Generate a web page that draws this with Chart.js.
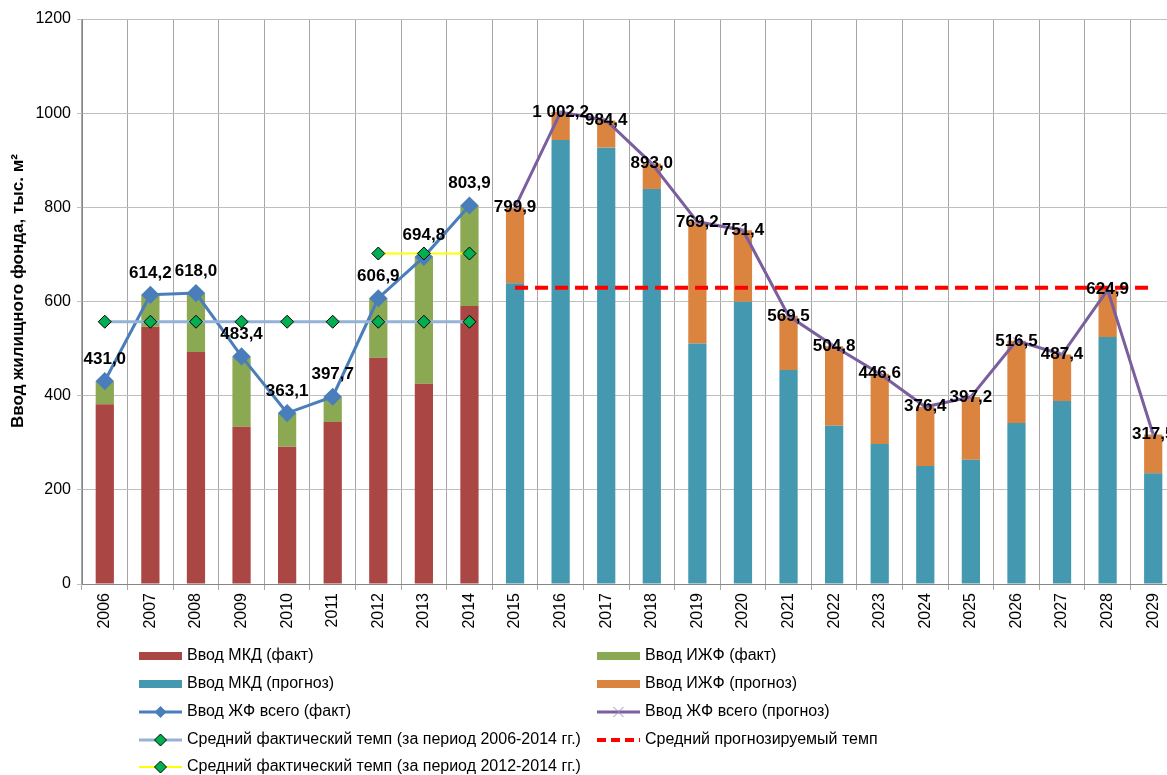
<!DOCTYPE html>
<html lang="ru">
<head>
    <meta charset="UTF-8">
    <title>Ввод жилищного фонда</title>
    <script src="https://cdn.jsdelivr.net/npm/chart.js"></script>
    <style>
        html, body { margin: 0; padding: 0; background: #fff; overflow: hidden; }
    </style>
</head>
<body>
    <canvas id="housingChart" width="1186" height="775"></canvas>

    <script>
        // years on the x axis
        const years = ['2006', '2007', '2008', '2009', '2010', '2011', '2012', '2013', '2014', '2015',
            '2016', '2017', '2018', '2019', '2020', '2021', '2022', '2023', '2024', '2025',
            '2026', '2027', '2028', '2029'];

        // fact 2006-2014, thousand m2
        const mkdFact = [382.0, 546.5, 493.0, 334.0, 291.7, 344.0, 480.7, 425.5, 590.5];
        const izhfFact = [49.0, 67.7, 125.0, 149.4, 71.4, 53.7, 126.2, 269.3, 213.4];
        const totalFact = [431.0, 614.2, 618.0, 483.4, 363.1, 397.7, 606.9, 694.8, 803.9];

        // forecast 2015-2029
        const mkdForecast = [638.7, 943.0, 926.8, 839.0, 511.0, 599.7, 454.5, 336.0, 297.4, 250.6, 264.0, 342.0, 388.7, 524.6, 235.0];
        const izhfForecast = [161.2, 59.2, 57.6, 54.0, 258.2, 151.7, 115.0, 168.8, 149.2, 125.8, 133.2, 174.5, 98.7, 100.3, 82.5];
        const totalForecast = [799.9, 1002.2, 984.4, 893.0, 769.2, 751.4, 569.5, 504.8, 446.6, 376.4, 397.2, 516.5, 487.4, 624.9, 317.5];

        // average rates
        const avgFact2006 = 557.0;
        const avgFact2012 = 701.9;
        const avgForecast = 629.4;

        const yTitle = 'Ввод жилищного фонда, тыс. м²';

        const nFact = mkdFact.length;
        const nForecast = mkdForecast.length;
        const empty = n => Array(n).fill(null);
        const factSeries = arr => arr.concat(empty(nForecast));
        const forecastSeries = arr => empty(nFact).concat(arr);

        const FONT = '"Liberation Sans", Arial, sans-serif';

        function fmt(v) {
            const parts = v.toFixed(1).split('.');
            const intPart = parts[0].replace(/\B(?=(\d{3})+(?!\d))/g, ' ');
            return intPart + ',' + parts[1];
        }

        const greenDiamond = {
            pointStyle: 'rectRot',
            pointRadius: 6.5,
            pointHoverRadius: 6.5,
            pointBackgroundColor: '#00B050',
            pointBorderColor: '#000000',
            pointBorderWidth: 1
        };

        // value labels on the two total lines
        const valueLabels = {
            id: 'valueLabels',
            afterDatasetsDraw(chart) {
                const ctx = chart.ctx;
                ctx.save();
                ctx.font = 'bold 17px ' + FONT;
                ctx.fillStyle = '#000';
                ctx.textAlign = 'center';
                ctx.textBaseline = 'middle';
                [[4, -22], [5, 0]].forEach(([idx, dy]) => {
                    const meta = chart.getDatasetMeta(idx);
                    chart.data.datasets[idx].data.forEach((v, i) => {
                        if (v == null) return;
                        const p = meta.data[i];
                        ctx.fillText(fmt(v), p.x, p.y + dy);
                    });
                });
                ctx.restore();
            }
        };

        // rotated y axis title, placed a bit above the axis centre as in the original
        const axisTitle = {
            id: 'axisTitle',
            afterDraw(chart) {
                const ctx = chart.ctx;
                ctx.save();
                ctx.translate(18, 291);
                ctx.rotate(-Math.PI / 2);
                ctx.font = 'bold 17px ' + FONT;
                ctx.fillStyle = '#000';
                ctx.textAlign = 'center';
                ctx.textBaseline = 'middle';
                ctx.fillText(yTitle, 0, 0);
                ctx.restore();
            }
        };

        // two-column legend under the chart
        const bottomLegend = {
            id: 'bottomLegend',
            afterDraw(chart) {
                const ctx = chart.ctx;
                const items = [
                    [0, 139, 656], [1, 597, 656],
                    [2, 139, 684], [3, 597, 684],
                    [4, 139, 712], [5, 597, 712],
                    [6, 139, 740], [7, 597, 740],
                    [8, 139, 767]
                ];
                ctx.save();
                ctx.font = '16px ' + FONT;
                ctx.textBaseline = 'middle';
                items.forEach(([idx, x, y]) => {
                    const ds = chart.data.datasets[idx];
                    const w = 43;
                    const cx = x + w / 2;
                    if (ds.type === 'bar') {
                        ctx.fillStyle = ds.backgroundColor;
                        ctx.fillRect(x, y - 4, w, 8);
                    } else {
                        ctx.strokeStyle = ds.borderColor;
                        ctx.lineWidth = ds.borderWidth;
                        ctx.setLineDash(ds.borderDash ? [9, 5] : []);
                        ctx.beginPath();
                        ctx.moveTo(x, y);
                        ctx.lineTo(x + w, y);
                        ctx.stroke();
                        ctx.setLineDash([]);
                        if (ds.pointRadius > 0) {
                            ctx.fillStyle = ds.pointBackgroundColor;
                            ctx.strokeStyle = ds.pointBorderColor;
                            ctx.lineWidth = ds.pointBorderWidth || 1;
                            ctx.beginPath();
                            const r = 6;
                            if (ds.pointStyle === 'crossRot') {
                                ctx.moveTo(cx - 5, y - 5); ctx.lineTo(cx + 5, y + 5);
                                ctx.moveTo(cx - 5, y + 5); ctx.lineTo(cx + 5, y - 5);
                                ctx.stroke();
                            } else {
                                ctx.moveTo(cx, y - r); ctx.lineTo(cx + r, y);
                                ctx.lineTo(cx, y + r); ctx.lineTo(cx - r, y);
                                ctx.closePath();
                                ctx.fill();
                                if (ds.pointBorderColor !== ds.pointBackgroundColor) ctx.stroke();
                            }
                        }
                    }
                    ctx.fillStyle = '#000';
                    ctx.fillText(ds.label, x + w + 5, y);
                });
                ctx.restore();
            }
        };

        const ctx = document.getElementById('housingChart').getContext('2d');

        new Chart(ctx, {
            data: {
                labels: years,
                datasets: [
                    {
                        type: 'bar', label: 'Ввод МКД (факт)', data: factSeries(mkdFact),
                        backgroundColor: '#AA4643', stack: 'bars', order: 10
                    },
                    {
                        type: 'bar', label: 'Ввод ИЖФ (факт)', data: factSeries(izhfFact),
                        backgroundColor: '#8BA853', stack: 'bars', order: 10
                    },
                    {
                        type: 'bar', label: 'Ввод МКД (прогноз)', data: forecastSeries(mkdForecast),
                        backgroundColor: '#4499B0', stack: 'bars', order: 10
                    },
                    {
                        type: 'bar', label: 'Ввод ИЖФ (прогноз)', data: forecastSeries(izhfForecast),
                        backgroundColor: '#DB843F', stack: 'bars', order: 10
                    },
                    {
                        type: 'line', label: 'Ввод ЖФ всего (факт)', data: factSeries(totalFact),
                        stack: 'l1',
                        borderColor: '#4A7EBB', borderWidth: 3, pointStyle: 'rectRot',
                        pointRadius: 7, pointHoverRadius: 7,
                        pointBackgroundColor: '#4A7EBB', pointBorderColor: '#4A7EBB', order: 3
                    },
                    {
                        type: 'line', label: 'Ввод ЖФ всего (прогноз)', data: forecastSeries(totalForecast),
                        stack: 'l2',
                        borderColor: '#7B5E9E', borderWidth: 3, pointStyle: 'crossRot',
                        pointRadius: 5, pointHoverRadius: 5,
                        pointBackgroundColor: '#9C88C0', pointBorderColor: '#9C88C0', pointBorderWidth: 1, order: 3
                    },
                    {
                        type: 'line', label: 'Средний фактический темп (за период 2006-2014 гг.)',
                        data: factSeries(Array(nFact).fill(avgFact2006)),
                        stack: 'l3',
                        borderColor: '#95B3D7', borderWidth: 3, order: 1, ...greenDiamond
                    },
                    {
                        type: 'line', label: 'Средний прогнозируемый темп',
                        data: forecastSeries(Array(nForecast).fill(avgForecast)),
                        stack: 'l4',
                        borderColor: '#FF0000', borderWidth: 4, borderDash: [13, 7],
                        pointRadius: 0, order: 2
                    },
                    {
                        type: 'line', label: 'Средний фактический темп (за период 2012-2014 гг.)',
                        data: [...empty(6), avgFact2012, avgFact2012, avgFact2012, ...empty(nForecast)],
                        stack: 'l5',
                        borderColor: '#FFFF00', borderWidth: 2, order: 1, ...greenDiamond
                    }
                ]
            },
            options: {
                responsive: false,
                animation: false,
                layout: { padding: { top: 19, right: 1, bottom: 131, left: 0 } },
                plugins: {
                    legend: { display: false },
                    tooltip: { enabled: false }
                },
                datasets: {
                    bar: { categoryPercentage: 1, barPercentage: 0.4 },
                    line: { tension: 0, spanGaps: false }
                },
                scales: {
                    x: {
                        stacked: true,
                        afterFit: s => { s.height = 60; },
                        grid: { offset: true, color: '#A6A6A6', tickLength: 6 },
                        border: { color: '#868686' },
                        ticks: {
                            autoSkip: false, minRotation: 90, maxRotation: 90,
                            color: '#000', font: { size: 16, family: FONT }
                        }
                    },
                    y: {
                        stacked: true,
                        min: 0, max: 1200,
                        afterFit: s => { s.width = 82; },
                        grid: { color: '#BFBFBF', tickLength: 5 },
                        border: { color: '#868686' },
                        ticks: {
                            stepSize: 200, padding: 6,
                            callback: v => String(v),
                            color: '#000', font: { size: 16, family: FONT }
                        }
                    }
                }
            },
            plugins: [valueLabels, axisTitle, bottomLegend]
        });
    </script>
</body>
</html>
